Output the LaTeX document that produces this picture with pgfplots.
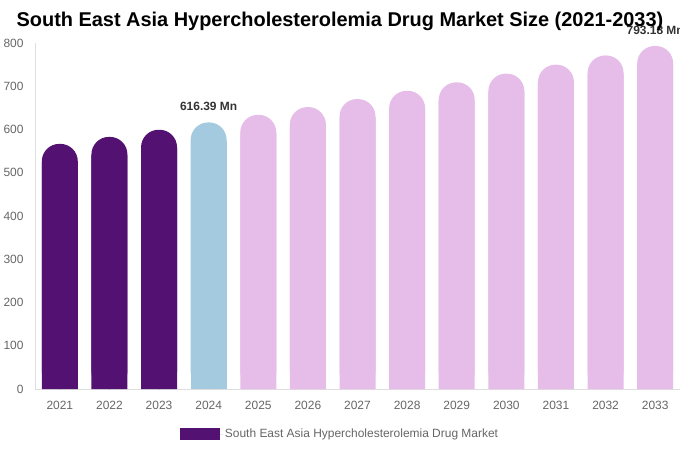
\documentclass[border=0pt]{standalone}
\usepackage{fontspec}
\setmainfont{Liberation Sans}
\usepackage{pgfplots}
\usepackage{pgfplotstable}
\pgfplotsset{compat=1.18}

\definecolor{darkpurple}{RGB}{83,17,113}
\definecolor{lightblue}{RGB}{163,202,223}
\definecolor{lightpink}{RGB}{230,189,233}
\definecolor{ticktext}{RGB}{102,102,102}

% market size, USD Mn (x = 0 for 2021)
\pgfplotstableread{
x y
0 566.8
1 582.9
2 599.4
}\histdata
\pgfplotstableread{
x y
3 616.39
}\basedata
\pgfplotstableread{
x y
4 633.9
5 651.9
6 670.4
7 689.5
8 709.1
9 729.2
10 749.9
11 771.2
12 793.18
}\fcdata

\begin{document}
\begin{tikzpicture}
\begin{axis}[
  scale only axis,
  width=645bp, height=346bp,
  ybar, bar width=36bp,
  xmin=-0.5, xmax=12.5,
  ymin=0, ymax=800,
  xtick={0,...,12},
  xticklabels={2021,2022,2023,2024,2025,2026,2027,2028,2029,2030,2031,2032,2033},
  ytick={0,100,...,800},
  major tick length=0pt,
  axis x line*=bottom, axis y line*=left,
  axis line style={-, draw=black!13},
  /pgf/number format/assume math mode=true,
  tick label style={font=\fontsize{12}{14}\selectfont, text=ticktext},
  yticklabel style={xshift=-8bp},
  xticklabel style={yshift=-9bp},
  title={South East Asia Hypercholesterolemia Drug Market Size (2021-2033)},
  title style={at={(0.5,1)}, anchor=center, yshift=16bp, xshift=-17.5bp,
    font=\bfseries\fontsize{20}{24}\selectfont},
  legend style={at={(0.5,0)}, anchor=north, yshift=-36bp, xshift=-17.5bp,
    draw=none, font=\fontsize{12}{14}\selectfont, text=ticktext},
  legend image code/.code={
    \fill[darkpurple, sharp corners] (0bp,-6bp) rectangle (40bp,6bp);
    \path (0bp,0bp) -- (43bp,0bp);},
  clip=false,
]
\addplot[fill=darkpurple, draw=none, bar shift=0pt, rounded corners=17.5bp] table[x=x,y=y] {\histdata};
\addlegendentry{South East Asia Hypercholesterolemia Drug Market}
\addplot[fill=darkpurple, draw=none, bar shift=0pt, forget plot] table[x=x,y expr=\thisrow{y}-42] {\histdata};
\addplot[fill=lightblue, draw=none, bar shift=0pt, rounded corners=17.5bp, forget plot] table[x=x,y=y] {\basedata};
\addplot[fill=lightblue, draw=none, bar shift=0pt, forget plot] table[x=x,y expr=\thisrow{y}-42] {\basedata};
\addplot[fill=lightpink, draw=none, bar shift=0pt, rounded corners=17.5bp, forget plot] table[x=x,y=y] {\fcdata};
\addplot[fill=lightpink, draw=none, bar shift=0pt, forget plot] table[x=x,y expr=\thisrow{y}-42] {\fcdata};
% value labels
\addplot[draw=none, fill=none, bar shift=0pt, forget plot,
  point meta=explicit symbolic,
  nodes near coords,
  every node near coord/.append style={anchor=south, yshift=8bp,
    font=\bfseries\fontsize{12}{14}\selectfont, text=black!80}]
  coordinates {(3,616.39) [616.39 Mn] (12,793.18) [793.18 Mn]};
\end{axis}
\pgfresetboundingbox
\path (current axis.south west) ++(-35bp,-61bp) rectangle ++(680bp,450bp);
\end{tikzpicture}
\end{document}
